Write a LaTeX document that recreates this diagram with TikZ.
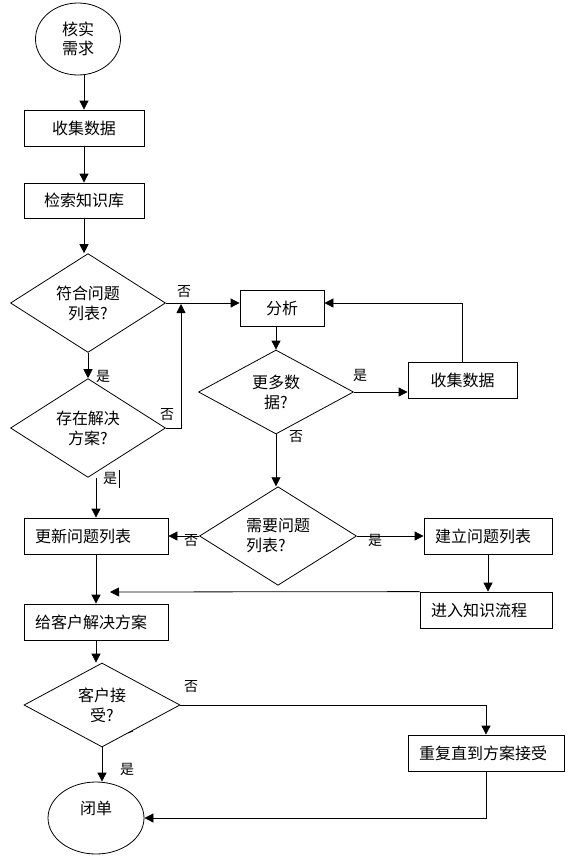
\documentclass[tikz,border=0pt]{standalone}
\usepackage{fontspec}
\setmainfont{Noto Sans CJK SC}
\usetikzlibrary{shapes.geometric,arrows.meta,calc}

\tikzset{
  box/.style={draw, minimum height=36pt, inner sep=0pt, font=\fontsize{16}{20}\selectfont},
  lbox/.style={draw, minimum height=36pt, text width=#1, align=left, inner xsep=11pt, inner ysep=0pt, font=\fontsize{16}{20}\selectfont},
  decision/.style={draw, diamond, inner sep=0pt, align=center, font=\fontsize{16}{20}\selectfont},
  term/.style={draw, ellipse, inner sep=0pt, align=center, font=\fontsize{16}{19}\selectfont},
  arr/.style={-{Triangle[length=9pt,width=9pt]}},
  tag/.style={inner sep=0pt, font=\fontsize{14}{14}\selectfont}
}

\begin{document}
\begin{tikzpicture}[x=1pt, y=-1pt, line width=0.8pt]

  \useasboundingbox (0,0) rectangle (576,857);

  % Draw the left column
  \node[term, minimum width=85pt, minimum height=72pt] (S) at (78,39) {核实\\需求};
  \node[box, minimum width=120pt] (C) at (84,128) {收集数据};
  \node[box, minimum width=120pt, minimum height=35pt] (K) at (84,200.5) {检索知识库};
  \node[decision, minimum width=155pt, minimum height=93pt] (Q1) at (88,303) {符合问题\\列表?};
  \node[decision, minimum width=155pt, minimum height=83pt] (Q2) at (88,428) {存在解决\\方案?};

  % Draw the analysis loop
  \node[box, minimum width=84pt] (A) at (282,308) {分析};
  \node[decision, minimum width=155pt, minimum height=84pt] (Q3) at (276,392) {更多数\\据?};
  \node[box, minimum width=109pt] (G) at (462.5,380) {收集数据};
  \node[decision, minimum width=157pt, minimum height=84pt, align=left] (Q4) at (278,536) {需要问题\\列表?};

  % Draw the lower boxes
  \node[lbox=122pt] (U) at (96,536) {更新问题列表};
  \node[lbox=106pt] (B) at (488,536) {建立问题列表};
  \node[lbox=110pt] (E) at (486,610) {进入知识流程};
  \node[lbox=122pt] (P) at (96,622) {给客户解决方案};
  \node[decision, minimum width=156pt, minimum height=84pt] (Q5) at (102,705) {客户接\\受?};
  \node[lbox=134pt] (R) at (486,753) {重复直到方案接受};
  \node[term, minimum width=96pt, minimum height=72pt, text depth=20pt] (F) at (96,818) {闭单};

  % Define the free ends
  \coordinate (J1) at (181,304);
  \coordinate (J2) at (110,592);

  % Draw the arrows
  \draw[arr] (S.south -| C.north) -- (C.north);
  \draw[arr] (C) -- (K);
  \draw[arr] (K.south) -- (K.south |- Q1.north);
  \draw[arr] (Q1) -- (Q2);
  \draw[arr] (Q1.east) -- (Q1.east -| A.west);
  \draw[arr] (Q2.east) -| (J1);
  \draw[arr] (A.south -| Q3.north) -- (Q3.north);
  \draw[arr] (Q3.east) -- (Q3.east -| G.west);
  \draw[arr] (G.north) |- (A.east |- Q1.east);
  \draw[arr] (Q3.south) -- (Q3.south |- Q4.north);
  \draw[arr] (Q4.west) -- (Q4.west -| U.east);
  \draw[arr] (Q4.east) -- (Q4.east -| B.west);
  \draw[arr] (B.south) -- (B.south |- E.north);
  \draw[arr] (E.north west) -- (J2);
  \draw[arr] (U.north |- Q2.south) -- (U.north);
  \draw[arr] (U) -- (P);
  \draw[arr] (P.south) -- (P.south |- Q5.north);
  \draw[arr] (Q5.south) -- (Q5.south |- F.north);
  \draw[arr] (Q5.east) -| (R.north);
  \draw[arr] (R.south) |- (F.east);

  % Draw the labels
  \node[tag] (L1) at (184,292) {否};
  \node[tag] (L2) at (103,376) {是};
  \node[tag] (L3) at (167,415) {否};
  \node[tag] (L4) at (110,478) {是};
  \node[tag] (L5) at (360,375) {是};
  \node[tag] (L6) at (296,437) {否};
  \node[tag] (L7) at (191,541) {否};
  \node[tag] (L8) at (375,540) {是};
  \node[tag] (L9) at (191,687) {否};
  \node[tag] (L10) at (127,769) {是};

  % Draw the stray marks
  \draw (119,470) -- (119,488);
  \draw (128,733) -- (133,731);

\end{tikzpicture}
\end{document}
